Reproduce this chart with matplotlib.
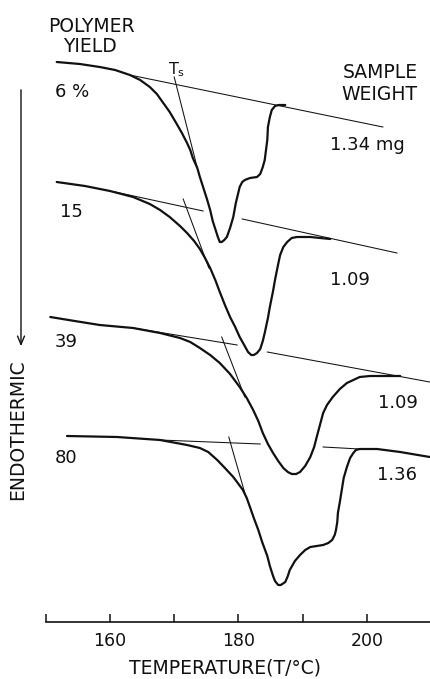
import matplotlib
matplotlib.use("Agg")
import matplotlib.pyplot as plt

# ---------------- data (temperature in °C, heat-flow signal in arbitrary units) -------------
t_6 = [151.7, 155.3, 158.4, 160.8, 163.1, 164.7, 166.2, 167.3, 168.3, 169.3, 170.4, 171.2,
       172.0, 172.5, 172.9, 173.6, 174.0, 174.6, 175.1, 175.6, 176.0, 176.5, 176.8, 177.1,
       177.4, 177.8, 178.2, 178.7, 179.2, 179.6, 180.2, 180.6, 181.0, 181.8, 182.9, 183.4,
       183.8, 184.1, 184.3, 184.5, 184.6, 184.9, 185.2, 185.7, 186.3, 187.3]
s_6 = [-62, -64, -67, -70, -75, -80, -87, -94, -103, -112, -124, -133,
       -143, -150, -158, -168, -177, -189, -199, -210, -221, -231, -237, -242,
       -242, -240, -237, -228, -217, -203, -187, -182, -180, -178, -177, -174,
       -167, -160, -150, -140, -127, -117, -110, -106, -105, -105]
base_6_t = [163.1, 202.5]
base_6_s = [-75, -127]
ts_6_t = [170.0, 173.6]
ts_6_s = [-77, -168]

t_15 = [151.7, 156.1, 160.0, 163.6, 166.2, 167.8, 169.3, 170.9, 172.0, 173.1, 174.0, 174.8,
        175.6, 176.4, 177.1, 177.9, 178.7, 179.5, 180.2, 180.9, 181.5, 182.0, 182.4, 182.9,
        183.4, 183.8, 184.1, 184.6, 184.9, 185.4, 185.7, 186.2, 186.5, 187.0, 187.6, 188.3,
        189.1, 191.2, 194.3]
s_15 = [-182, -186, -191, -197, -204, -210, -217, -226, -233, -241, -249, -258,
        -268, -280, -292, -305, -317, -327, -337, -345, -352, -355, -355, -353,
        -349, -341, -333, -318, -307, -291, -280, -264, -255, -247, -242, -238,
        -237, -237, -239]
base_15a_t = [160.8, 174.5]
base_15a_s = [-192, -211]
base_15b_t = [180.6, 204.7]
base_15b_s = [-219, -253]
ts_15_t = [171.4, 175.4]
ts_15_s = [-199, -268]

t_39 = [150.7, 154.5, 158.4, 163.6, 167.8, 170.9, 172.5, 174.0, 175.6, 177.1, 178.7, 180.2,
        181.3, 182.3, 183.1, 183.8, 184.6, 185.4, 186.2, 187.0, 187.7, 188.3, 189.0, 189.6,
        190.4, 191.2, 191.8, 192.2, 192.7, 193.2, 193.8, 194.7, 195.8, 196.9, 197.9, 198.9,
        200.5, 202.1, 205.2]
s_39 = [-317, -321, -325, -328, -333, -338, -342, -348, -355, -363, -374, -387,
        -398, -410, -421, -433, -444, -453, -461, -468, -472, -474, -474, -472,
        -466, -457, -447, -437, -425, -413, -405, -397, -389, -383, -380, -377,
        -376, -376, -376]
base_39a_t = [163.6, 179.8]
base_39a_s = [-328, -345]
base_39b_t = [184.5, 209.8]
base_39b_s = [-352, -382]
ts_39_t = [177.4, 181.0]
ts_39_s = [-337, -397]

t_80 = [153.3, 161.1, 167.8, 172.0, 174.0, 175.3, 176.7, 177.9, 179.2, 179.9, 180.7, 181.3,
        181.8, 182.4, 183.1, 183.7, 184.5, 184.9, 185.4, 185.7, 186.2, 186.6, 187.3, 187.7,
        188.0, 188.8, 189.6, 190.4, 191.2, 192.2, 193.2, 194.0, 194.6, 195.0, 195.2, 195.4,
        195.5, 195.8, 196.1, 196.4, 196.9, 197.4, 197.9, 198.3, 198.9, 201.6, 205.2, 209.8]
s_80 = [-436, -437, -440, -445, -448, -452, -460, -468, -477, -483, -490, -498,
        -507, -518, -530, -542, -556, -566, -576, -581, -585, -585, -582, -576,
        -570, -561, -555, -550, -547, -546, -545, -543, -540, -535, -530, -522,
        -513, -502, -490, -478, -467, -458, -453, -450, -449, -449, -452, -457]
base_80a_t = [167.8, 183.4]
base_80a_s = [-440, -444]
base_80b_t = [193.2, 198.9]
base_80b_s = [-447, -449]
ts_80_t = [178.5, 181.0]
ts_80_s = [-437, -493]

yield_labels = ["6 %", "15", "39", "80"]
weight_labels = ["1.34 mg", "1.09", "1.09", "1.36"]
tick_values = [150, 160, 170, 180, 190, 200]
tick_labels = ["", "160", "", "180", "", "200"]

# ---------------- figure ----------------
W, H = 431, 679
fig = plt.figure(figsize=(W / 100, H / 100), dpi=100)
fig.patch.set_facecolor("white")
ax = fig.add_axes([45.8 / W, (H - 622) / H, (W - 45.8) / W, 622 / H])
ax.set_xlim(150, 210)
ax.set_ylim(-622, 0)

ink = "#111111"
thick = dict(color=ink, lw=1.6, solid_capstyle="round", solid_joinstyle="round", clip_on=False)
thin = dict(color=ink, lw=0.75, clip_on=False)

for t, s in [(t_6, s_6), (t_15, s_15), (t_39, s_39), (t_80, s_80)]:
    ax.plot(t, s, **thick)
for t, s in [(base_6_t, base_6_s), (base_15a_t, base_15a_s), (base_15b_t, base_15b_s),
             (base_39a_t, base_39a_s), (base_39b_t, base_39b_s),
             (base_80a_t, base_80a_s), (base_80b_t, base_80b_s),
             (ts_6_t, ts_6_s), (ts_15_t, ts_15_s), (ts_39_t, ts_39_s), (ts_80_t, ts_80_s)]:
    ax.plot(t, s, **thin)

for sp in ["left", "right", "top"]:
    ax.spines[sp].set_visible(False)
ax.spines["bottom"].set_linewidth(1.2)
ax.spines["bottom"].set_color(ink)
ax.set_yticks([])
ax.set_xticks(tick_values)
ax.set_xticklabels(tick_labels)
ax.tick_params(axis="x", direction="in", length=5.5, width=1.1, color=ink, pad=7,
               labelsize=12.5, labelcolor=ink)

def ft(x, y, s, **kw):
    kw.setdefault("fontsize", 13)
    kw.setdefault("color", ink)
    fig.text(x / W, 1 - y / H, s, **kw)

ft(91, 32, "POLYMER", ha="center", va="baseline", fontsize=13.5)
ft(90, 52, "YIELD", ha="center", va="baseline", fontsize=13.5)
ft(418, 78, "SAMPLE", ha="right", va="baseline", fontsize=13.5)
ft(418, 100, "WEIGHT", ha="right", va="baseline", fontsize=13.5)

yield_pos = [(55, 97), (60, 217), (55, 347), (55, 463)]
for (x, y), lab in zip(yield_pos, yield_labels):
    ft(x, y, lab, ha="left", va="baseline")

weight_pos = [(330, 150), (330, 285), (378, 408), (377, 480)]
for (x, y), lab in zip(weight_pos, weight_labels):
    ft(x, y, lab, ha="left", va="baseline")

ft(168, 74, r"T$_\mathregular{s}$", ha="left", va="baseline", fontsize=11.5)

ft(225, 673, "TEMPERATURE(T/°C)", ha="center", va="baseline", fontsize=13.5)
ft(18, 430, "ENDOTHERMIC", ha="center", va="center", rotation=90, fontsize=13.5)

fig.add_artist(matplotlib.patches.FancyArrowPatch(
    (21 / W, 1 - 87 / H), (21 / W, 1 - 349 / H), transform=fig.transFigure,
    arrowstyle="->,head_length=6,head_width=2.5", color=ink, lw=1.0, mutation_scale=1))

fig.savefig("out.png", dpi=100, facecolor="white")
